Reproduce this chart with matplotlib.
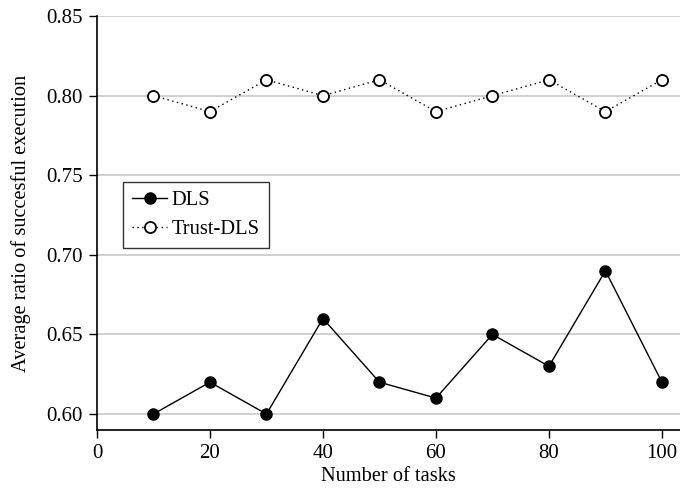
import matplotlib.pyplot as plt

tasks = [10, 20, 30, 40, 50, 60, 70, 80, 90, 100]
dls = [0.60, 0.62, 0.60, 0.66, 0.62, 0.61, 0.65, 0.63, 0.69, 0.62]
trust_dls = [0.80, 0.79, 0.81, 0.80, 0.81, 0.79, 0.80, 0.81, 0.79, 0.81]

plt.rcParams["font.family"] = ["Liberation Serif", "DejaVu Serif"]

fig = plt.figure(figsize=(6.8, 4.88), dpi=100)
ax = fig.add_axes([0.1426, 0.119, 0.8574, 0.848])

ax.plot(tasks, dls, color="black", linewidth=1.0, marker="o",
        markersize=8, markerfacecolor="black", markeredgecolor="black",
        label="DLS")
ax.plot(tasks, trust_dls, color="black", linewidth=1.0, linestyle=(0, (1, 2.5)),
        marker="o", markersize=8, markerfacecolor="white",
        markeredgecolor="black", markeredgewidth=1.3, label="Trust-DLS")

ax.set_xlim(0, 103.2)
ax.set_ylim(0.59, 0.85)
ax.set_xticks([0, 20, 40, 60, 80, 100])
ax.set_yticks([0.60, 0.65, 0.70, 0.75, 0.80, 0.85])
ax.set_yticklabels(["0.60", "0.65", "0.70", "0.75", "0.80", "0.85"])

ax.yaxis.grid(True, color="#c8c8c8", linewidth=1.2)
ax.set_axisbelow(True)

for side in ["top", "right"]:
    ax.spines[side].set_visible(False)
for side in ["left", "bottom"]:
    ax.spines[side].set_linewidth(1.2)

ax.tick_params(axis="both", direction="out", length=6, width=1.0,
               labelsize=15, pad=4)

ax.set_xlabel("Number of tasks", fontsize=14.7, labelpad=3)
ax.set_ylabel("Average ratio of succesful execution", fontsize=14.7, labelpad=11)

leg = ax.legend(loc="upper left", bbox_to_anchor=(0.045, 0.6), fontsize=14.8,
                frameon=True, fancybox=False, edgecolor="black",
                handlelength=1.7, handletextpad=0.2, borderpad=0.45,
                labelspacing=0.45, borderaxespad=0)
leg.get_frame().set_linewidth(1.0)

plt.savefig("out.png", dpi=100)
plt.close()
